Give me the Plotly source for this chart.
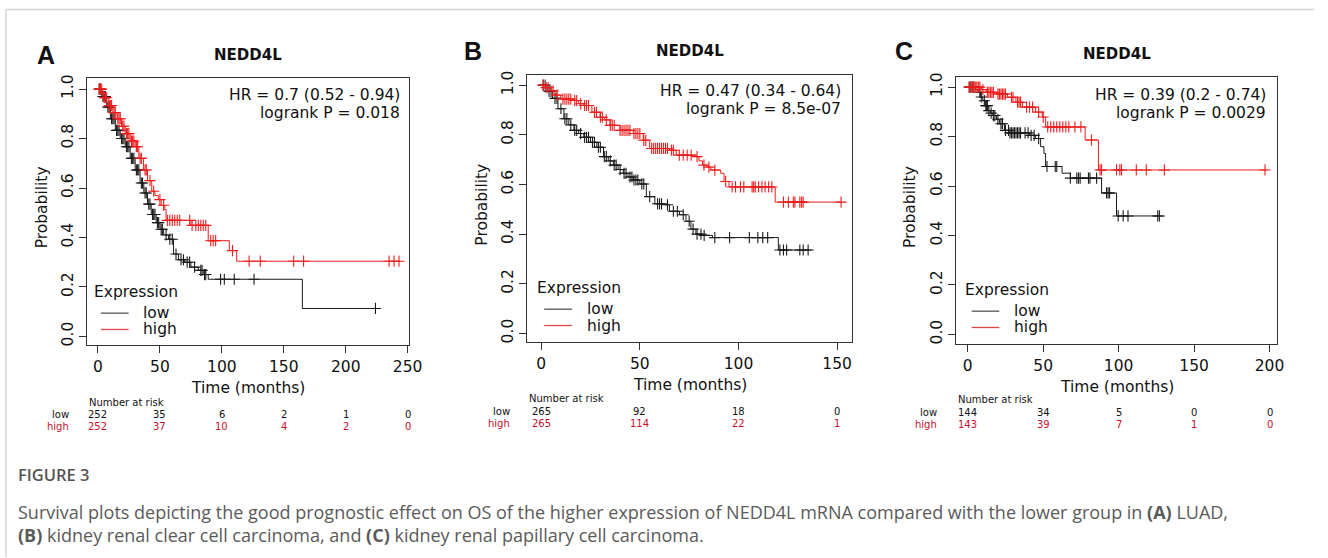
import plotly.graph_objects as go
import numpy as np

W, H = 1328, 558

# ---------------- DATA ----------------
panel_letters = ["A", "B", "C"]
gene = "NEDD4L"
groups = ["low", "high"]
legend_title = "Expression"
hr_lines = [
    ["HR = 0.7 (0.52 - 0.94)", "logrank P = 0.018"],
    ["HR = 0.47 (0.34 - 0.64)", "logrank P = 8.5e-07"],
    ["HR = 0.39 (0.2 - 0.74)", "logrank P = 0.0029"],
]

# Panel A (LUAD)
a_low_t = [0, 3, 7, 10, 14, 18, 22, 26, 30, 34, 37, 40, 43, 47, 50, 53, 57, 61, 65, 70, 75, 81, 85, 89, 165, 224]
a_low_s = [1.0, 0.97, 0.927, 0.88, 0.833, 0.80, 0.767, 0.72, 0.673, 0.62, 0.58, 0.535, 0.493, 0.46, 0.433, 0.41,
           0.393, 0.333, 0.31, 0.30, 0.28, 0.267, 0.25, 0.231, 0.113, 0.113]
a_low_cens = [1, 2, 4, 5, 6, 8, 9, 11, 12, 13, 15, 16, 17, 19, 20, 21, 23, 24, 25, 27, 28, 29, 31, 32, 33, 35, 36,
              38, 39, 41, 42, 44, 45, 46, 48, 49, 51, 52, 55, 58, 60, 63, 67, 69, 72, 74, 78, 83, 84, 86, 87,
              99, 102, 110, 126, 224]
a_high_t = [0, 4, 8.8, 12, 15.4, 19, 22, 26, 30, 33, 36.7, 40, 43.4, 46, 48.7, 51, 54, 55, 75, 89, 106, 112, 243]
a_high_s = [1.0, 0.965, 0.933, 0.905, 0.88, 0.85, 0.82, 0.79, 0.767, 0.72, 0.673, 0.63, 0.587, 0.57, 0.553, 0.53,
            0.513, 0.469, 0.449, 0.387, 0.347, 0.304, 0.304]
a_high_cens = [1, 2, 3, 5, 6, 7, 9, 10, 11, 13, 14, 16, 17, 18, 20, 21, 23, 24, 25, 27, 28, 29, 31, 32, 34, 35, 38,
               39, 42, 45, 50, 53, 56, 58, 60, 62, 64, 66, 74, 76, 79, 81, 83, 85, 87, 91, 93, 95, 108.6,
               122, 131, 158, 166, 235, 239, 243]

# Panel B (KIRC)
b_low_t = [0, 3, 5.7, 8.5, 11.5, 14, 16.6, 19, 21.6, 25, 28.2, 31.6, 34, 36.6, 39, 41.6, 44, 46.7, 50, 53.3,
           57.6, 62.6, 65, 70.1, 73.4, 75.9, 78.4, 82, 86.8, 120.2, 137]
b_low_s = [1.0, 0.975, 0.947, 0.905, 0.865, 0.84, 0.818, 0.805, 0.79, 0.77, 0.75, 0.712, 0.695, 0.678, 0.66,
           0.645, 0.63, 0.618, 0.602, 0.551, 0.522, 0.518, 0.492, 0.478, 0.452, 0.42, 0.40, 0.395, 0.386,
           0.336, 0.336]
b_low_cens = [1, 2, 4, 5, 7, 8, 10, 12, 13, 15, 17, 18, 20, 22, 23, 24, 26, 27, 29, 30, 32, 33, 35, 37, 38, 40,
              42, 43, 45, 46, 47, 48, 49, 51, 52, 55, 59, 60, 61, 64, 67, 69, 72, 75, 77, 79, 81, 82.6, 88,
              95.5, 105.5, 109.8, 112.3, 114.8, 121, 122.8, 124.4, 131.1, 132.8, 135.3]
b_high_t = [0, 2, 4.9, 7, 9.9, 16.6, 19, 21.6, 25.7, 29.9, 32, 34.9, 39.9, 46.7, 51.7, 55, 65, 68.4, 78.4, 80,
            81.8, 84, 86, 91, 92.7, 95.2, 118.6, 152]
b_high_s = [1.0, 0.99, 0.977, 0.96, 0.944, 0.938, 0.925, 0.918, 0.891, 0.871, 0.86, 0.838, 0.818, 0.805, 0.778,
            0.745, 0.738, 0.718, 0.712, 0.695, 0.678, 0.67, 0.658, 0.645, 0.612, 0.59, 0.529, 0.529]
b_high_cens = [1, 2.5, 3.5, 6, 8, 11, 12, 13, 14, 15, 17, 18, 20, 22, 23, 24, 27, 28, 30, 31, 33, 35, 36, 37, 40,
               41, 42, 43, 44, 45, 47, 48, 49, 50, 52, 53, 56, 57, 58, 59, 60, 61, 62, 63, 64, 66, 67, 70, 72,
               74, 76, 79, 82.5, 85, 88, 93.5, 96.8, 98.5, 101, 102.7, 106.9, 107.7, 108.5, 110.2, 111.9,
               113.5, 115.3, 116.9, 122.8, 125.3, 127.8, 128.6, 131.1, 132, 132.8, 152]

# Panel C (KIRP)
c_low_t = [0, 5, 6.8, 8.5, 10, 11.5, 13.3, 15, 16.6, 19, 21, 24.3, 27.5, 41, 45, 48.3, 50.5, 51.6, 62.5, 68,
           88.7, 98.6, 128]
c_low_s = [1.0, 0.99, 0.979, 0.96, 0.945, 0.925, 0.905, 0.895, 0.885, 0.87, 0.852, 0.825, 0.815, 0.805, 0.792,
           0.759, 0.732, 0.679, 0.652, 0.632, 0.572, 0.479, 0.479]
c_low_cens = [1, 2, 3, 4, 8, 9, 11, 12, 12.5, 13, 14, 15.5, 17, 18, 20, 22, 23, 25, 27, 28, 29, 30, 31, 32, 33,
              34, 35, 38, 40, 42, 44, 47, 52.5, 58, 59, 68, 72.3, 73.4, 74.5, 80, 81, 85.4, 92, 93, 94, 99.7,
              103, 106.2, 125.9, 127]
c_high_t = [0, 9, 12.3, 18.8, 26.4, 31.9, 36.2, 45, 49.4, 51.6, 77.8, 86.6, 198]
c_high_s = [1.0, 0.99, 0.979, 0.972, 0.959, 0.939, 0.919, 0.899, 0.879, 0.839, 0.786, 0.665, 0.665]
c_high_cens = [1, 2, 3, 4, 5, 6, 7, 8, 10, 13, 14, 15, 16, 17, 20, 21, 22, 23, 24, 25, 29, 30, 33, 34, 35, 39,
               41, 43, 47, 50, 53, 55, 57, 59, 61, 63, 65, 67, 71, 75, 82, 87.7, 88.7, 98.6, 100.8, 101.9,
               111.7, 118.3, 130.3, 197]

# Numbers at risk
a_risk_t = [0, 50, 100, 150, 200, 250]
a_risk_low = [252, 35, 6, 2, 1, 0]
a_risk_high = [252, 37, 10, 4, 2, 0]
b_risk_t = [0, 50, 100, 150]
b_risk_low = [265, 92, 18, 0]
b_risk_high = [265, 114, 22, 1]
c_risk_t = [0, 50, 100, 150, 200]
c_risk_low = [144, 34, 5, 0, 0]
c_risk_high = [143, 39, 7, 1, 0]

caption_title = "FIGURE 3"
caption_lines = [
    "Survival plots depicting the good prognostic effect on OS of the higher expression of NEDD4L "
    "mRNA compared with the lower group in <b>(A)</b> LUAD,",
    "<b>(B)</b> kidney renal clear cell carcinoma, and <b>(C)</b> kidney renal papillary cell carcinoma.",
]

# ---------------- LAYOUT GEOMETRY (pixels) ----------------
panels = [
    dict(box=(88, 413, 74, 344), xr=(-8.8, 250.8), yr=(-0.036, 1.044), xmax=250,
         low=(a_low_t, a_low_s, a_low_cens), high=(a_high_t, a_high_s, a_high_cens),
         risk=(a_risk_t, a_risk_low, a_risk_high), letter_xy=(46, 51), title_y=51,
         hr_x=406, hr_y=(91, 109), leg=(93, 290), xl_y=387, risk_y=(402, 414, 426), rl_x=72),
    dict(box=(533, 861, 71, 341), xr=(-7.0, 157.5), yr=(-0.036, 1.04), xmax=150,
         low=(b_low_t, b_low_s, b_low_cens), high=(b_high_t, b_high_s, b_high_cens),
         risk=(b_risk_t, b_risk_low, b_risk_high), letter_xy=(478, 46), title_y=47,
         hr_x=852, hr_y=(87, 105), leg=(541, 286), xl_y=384, risk_y=(398, 411, 423), rl_x=517),
    dict(box=(966, 1291, 73, 343), xr=(-7.9, 205.2), yr=(-0.04, 1.04), xmax=200,
         low=(c_low_t, c_low_s, c_low_cens), high=(c_high_t, c_high_s, c_high_cens),
         risk=(c_risk_t, c_risk_low, c_risk_high), letter_xy=(914, 47), title_y=50,
         hr_x=1282, hr_y=(91, 109), leg=(973, 288), xl_y=386, risk_y=(399, 412, 424), rl_x=949),
]

BLACK = "#1a1a1a"
RED = "#ee1c1c"
RISK_RED = "#c8102e"
LEG_COLORS = ["#555555", "#e04848"]
RFONT = "DejaVu Sans"
TXT = "#111"


def px(x):
    return x / W


def py(y):
    return 1 - y / H


def surv_at(t_arr, s_arr, t):
    idx = np.searchsorted(np.array(t_arr), t, side="right") - 1
    return s_arr[max(idx, 0)]


fig = go.Figure()
annotations = []
shapes = []


def text(t, x, y, size, color=TXT, family=RFONT, xanchor="center", xref="paper", angle=0, weight=None,
         yanchor="middle"):
    f = dict(family=family, size=size, color=color)
    if weight:
        f["weight"] = weight
    annotations.append(dict(text=t, x=x, y=y, xref=xref, yref="paper", showarrow=False, font=f,
                            xanchor=xanchor, yanchor=yanchor, textangle=angle, align="left"))


for i, p in enumerate(panels):
    k = "" if i == 0 else str(i + 1)
    xa, ya = "x" + k, "y" + k
    x0, x1, y0, y1 = p["box"]
    for name, (tt, ss, cc), col in [("low", p["low"], BLACK), ("high", p["high"], RED)]:
        fig.add_trace(go.Scatter(x=tt, y=ss, mode="lines", line=dict(color=col, width=1, shape="hv"),
                                 name=name, xaxis=xa, yaxis=ya, showlegend=False, hoverinfo="skip"))
        fig.add_trace(go.Scatter(x=cc, y=[surv_at(tt, ss, c) for c in cc], mode="markers",
                                 marker=dict(symbol="cross-thin", size=8, line=dict(color=col, width=1.1)),
                                 xaxis=xa, yaxis=ya, showlegend=False, hoverinfo="skip"))

    common = dict(showline=True, mirror=True, linecolor="#333", linewidth=1, ticks="outside", ticklen=7,
                  tickcolor="#333", showgrid=False, zeroline=False,
                  tickfont=dict(family=RFONT, size=15.5, color=TXT))
    fig.layout["xaxis" + k] = dict(domain=[px(x0), px(x1)], range=list(p["xr"]), anchor=ya,
                                   tickvals=list(range(0, p["xmax"] + 1, 50)), **common)
    fig.layout["yaxis" + k] = dict(domain=[py(y1), py(y0)], range=list(p["yr"]), anchor=xa,
                                   tickvals=[0, 0.2, 0.4, 0.6, 0.8, 1.0], tickformat=".1f",
                                   tickangle=-90, **common)

    cx = (x0 + x1) / 2
    text("<b>%s</b>" % panel_letters[i], px(p["letter_xy"][0]), py(p["letter_xy"][1]), 25,
         family="Liberation Sans")
    text("<b>%s</b>" % gene, px(cx), py(p["title_y"]), 15)
    for j, line in enumerate(hr_lines[i]):
        text(line, px(p["hr_x"]), py(p["hr_y"][j]), 15.5, xanchor="right")
    text("Time (months)", px(cx), py(p["xl_y"]), 15.5)
    text("Probability", px(x0 - 46), py((y0 + y1) / 2 - 4), 15.5, angle=-90)

    # legend (drawn like the R legend box content)
    lx, ly = p["leg"]
    text(legend_title, px(lx), py(ly), 15.5, xanchor="left")
    for g, (name, col) in enumerate(zip(groups, LEG_COLORS)):
        yy = ly + 21.5 + g * 16.5
        shapes.append(dict(type="line", xref="paper", yref="paper", x0=px(lx + 9), x1=px(lx + 37),
                           y0=py(yy), y1=py(yy), line=dict(color=col, width=1.3)))
        text(name, px(lx + 50), py(yy), 15.5, xanchor="left")

    # number at risk
    rt, rlow, rhigh = p["risk"]
    text("Number at risk", px(x0), py(p["risk_y"][0]), 10, xanchor="left")
    for lab, vals, col, yy in [("low", rlow, TXT, p["risk_y"][1]), ("high", rhigh, RISK_RED, p["risk_y"][2])]:
        text(lab, px(p["rl_x"]), py(yy), 10, color=col, xanchor="right")
        for t, v in zip(rt, vals):
            text(str(v), t, py(yy), 10, color=col, xref=xa)

# caption
text(caption_title, px(16), py(475), 16.5, color="#555", family="Open Sans", xanchor="left", weight=600)
text("<br>".join(caption_lines), px(16), py(498), 18, color="#5a5a5a", family="Open Sans", xanchor="left",
     yanchor="top")

# outer frame (top and left rules)
shapes.append(dict(type="line", xref="paper", yref="paper", x0=px(6), x1=1, y0=py(4.5), y1=py(4.5),
                   line=dict(color="#d4d4d4", width=1.5)))
shapes.append(dict(type="line", xref="paper", yref="paper", x0=px(6), x1=px(6), y0=py(4.5), y1=0,
                   line=dict(color="#d4d4d4", width=1.5)))

fig.update_layout(width=W, height=H, autosize=False, margin=dict(l=0, r=0, t=0, b=0),
                  paper_bgcolor="white", plot_bgcolor="white", annotations=annotations, shapes=shapes)

fig.write_html("out.html", config={"displayModeBar": False, "responsive": False},
               post_script="document.documentElement.style.overflow='hidden';"
                           "document.body.style.margin='0';document.body.style.overflow='hidden';")
